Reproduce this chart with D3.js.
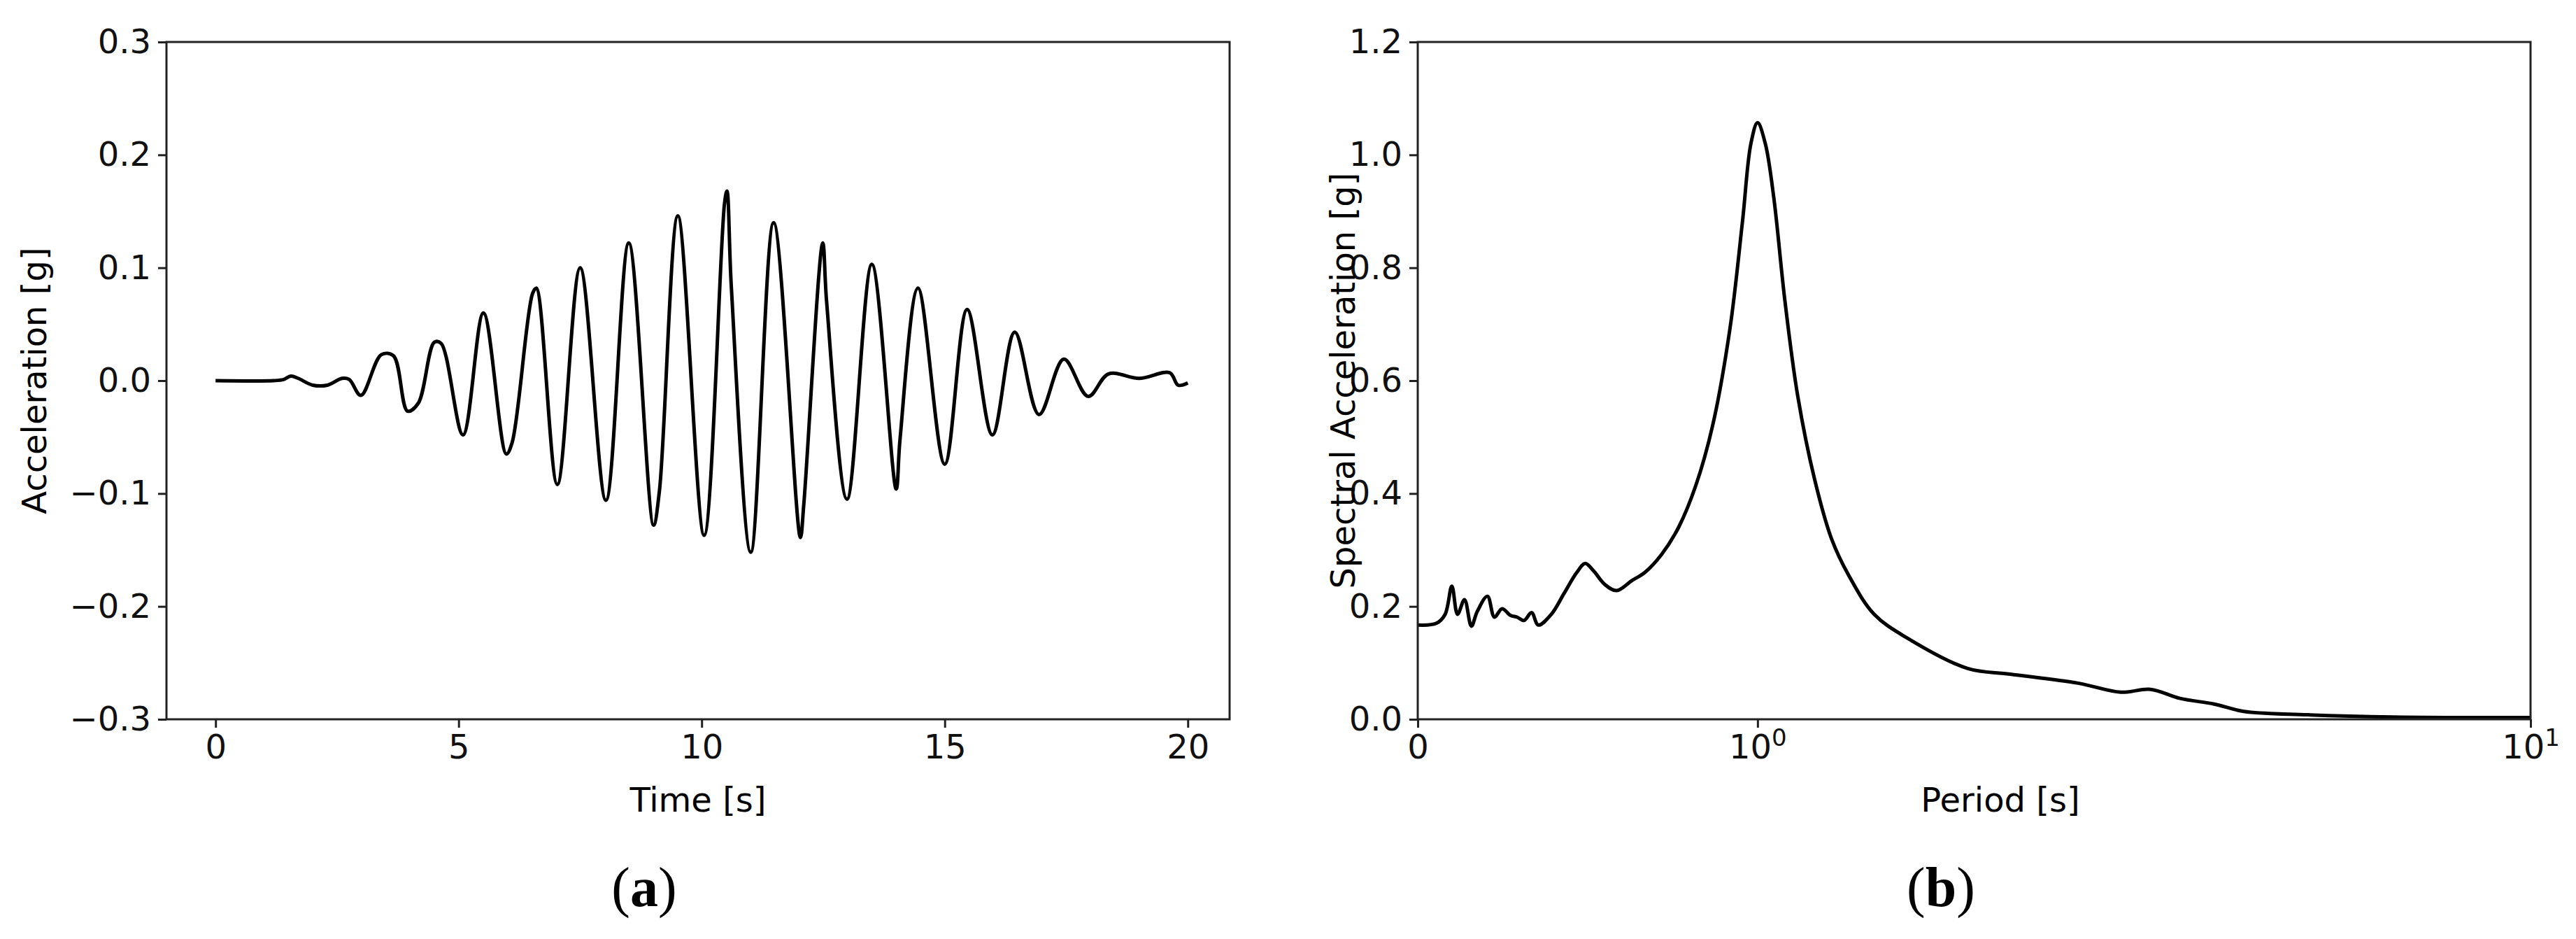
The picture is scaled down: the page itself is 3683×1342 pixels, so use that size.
<!DOCTYPE html>
<html><head><meta charset="utf-8">
<script src="https://cdn.jsdelivr.net/npm/d3@7"></script>
<style>body{margin:0;background:#fff}</style></head>
<body><svg id="c" width="3683" height="1342"></svg>
<script>
const timeS = [0,1.2,1.4,1.55,1.7,2.0,2.3,2.6,2.75,2.99,3.41,3.66,3.95,4.17,4.50,4.64,5.09,5.51,5.98,6.10,6.52,6.6,7.03,7.50,8.03,8.50,9.01,9.13,9.51,10.05,10.47,10.52,10.61,11.01,11.48,12.03,12.1,12.49,12.57,12.99,13.50,14.0,14.08,14.45,15.0,15.46,15.98,16.44,16.94,17.45,17.95,18.37,19.0,19.63,19.8,20.0];
const accel = [0,0,0.001,0.004,0.002,-0.004,-0.004,0.002,0.001,-0.013,0.023,0.022,-0.027,-0.02,0.034,0.033,-0.048,0.06,-0.065,-0.055,0.077,0.082,-0.092,0.1,-0.106,0.122,-0.128,-0.098,0.146,-0.137,0.157,0.168,0.083,-0.152,0.14,-0.139,-0.11,0.122,0.07,-0.105,0.103,-0.096,-0.052,0.082,-0.074,0.063,-0.048,0.043,-0.03,0.019,-0.014,0.006,0.002,0.007,-0.004,-0.002];
const periodS = [0,0.037,0.055,0.069,0.081,0.096,0.111,0.124,0.147,0.163,0.181,0.201,0.217,0.234,0.253,0.270,0.304,0.338,0.373,0.397,0.421,0.454,0.490,0.538,0.579,0.635,0.694,0.756,0.819,0.886,0.937,0.972,1.000,1.033,1.070,1.119,1.178,1.258,1.342,1.429,1.566,1.761,2.142,2.447,3.003,3.397,3.695,4.015,4.410,4.779,5.663,7.062,10.0];
const spectral = [0.167,0.170,0.186,0.236,0.186,0.212,0.165,0.191,0.218,0.181,0.196,0.184,0.181,0.175,0.189,0.167,0.186,0.223,0.260,0.276,0.263,0.239,0.228,0.246,0.260,0.292,0.340,0.414,0.520,0.690,0.881,1.020,1.057,1.020,0.924,0.743,0.573,0.425,0.319,0.255,0.186,0.143,0.090,0.080,0.064,0.048,0.053,0.037,0.027,0.014,0.008,0.004,0.003];
const ticksA_x = [0,5,10,15,20];
const ticksA_y = [-0.3,-0.2,-0.1,0.0,0.1,0.2,0.3];
const ticksB_x = [0,1,10];
const ticksB_y = [0,0.2,0.4,0.6,0.8,1.0,1.2];

const svg = d3.select('#c');
const F = 'DejaVu Sans, sans-serif';
const TOP=60, BOT=1028;

function frame(g,x0,x1){
  g.append('rect').attr('x',x0).attr('y',TOP).attr('width',x1-x0).attr('height',BOT-TOP)
   .attr('fill','none').attr('stroke','#222').attr('stroke-width',3);
}
function style(ax){
  ax.select('.domain').remove();
  ax.selectAll('line').attr('stroke','#222').attr('stroke-width',3);
  ax.selectAll('text').attr('font-family',F).attr('font-size',48).attr('fill','#111');
}
// Panel a
{
  const x = d3.scaleLinear().domain([-1.01,20.86]).range([238,1758]);
  const y = d3.scaleLinear().domain([-0.3,0.3]).range([BOT,TOP]);
  const g = svg.append('g');
  const ax = g.append('g').attr('transform',`translate(0,${BOT})`).call(d3.axisBottom(x).tickValues(ticksA_x).tickSize(12).tickPadding(10).tickFormat(d3.format('d')));
  style(ax);
  const ay = g.append('g').attr('transform',`translate(238,0)`).call(d3.axisLeft(y).tickValues(ticksA_y).tickSize(12).tickPadding(10).tickFormat(d=>d3.format('.1f')(d).replace('-','\u2212')));
  style(ay);
  g.append('path').datum(timeS.map((t,i)=>[t,accel[i]]))
   .attr('d',d3.line().x(d=>x(d[0])).y(d=>y(d[1])).curve(d3.curveCatmullRom.alpha(0.5)))
   .attr('fill','none').attr('stroke','#000').attr('stroke-width',5).attr('stroke-linejoin','round');
  frame(g,238,1758);
  g.append('text').attr('x',998).attr('y',1160).attr('text-anchor','middle').attr('font-family',F).attr('font-size',48).text('Time [s]');
  g.append('text').attr('transform',`translate(66,544) rotate(-90)`).attr('text-anchor','middle').attr('font-family',F).attr('font-size',48).text('Acceleration [g]');
  const t=g.append('text').attr('x',921).attr('y',1295).attr('text-anchor','middle').attr('font-family','Liberation Serif, serif').attr('font-size',80);
  t.append('tspan').text('(');t.append('tspan').attr('font-weight','bold').text('a');t.append('tspan').text(')');
}
// Panel b
{
  const x = d3.scaleSymlog().constant(0.85).domain([0,10]).range([2027,3618]);
  const y = d3.scaleLinear().domain([0,1.2]).range([BOT,TOP]);
  const g = svg.append('g');
  const ax = g.append('g').attr('transform',`translate(0,${BOT})`).call(d3.axisBottom(x).tickValues(ticksB_x).tickSize(12).tickPadding(10).tickFormat(()=>''));
  style(ax);
  ax.selectAll('.tick text').each(function(d){
    const s=d3.select(this);
    if(d===0){s.text('0');}
    else{s.append('tspan').text('10');s.append('tspan').attr('dy',-18).attr('font-size',34).text(d===1?'0':'1');}
  });
  const ay = g.append('g').attr('transform',`translate(2027,0)`).call(d3.axisLeft(y).tickValues(ticksB_y).tickSize(12).tickPadding(10).tickFormat(d3.format('.1f')));
  style(ay);
  g.append('path').datum(periodS.map((t,i)=>[t,spectral[i]]))
   .attr('d',d3.line().x(d=>x(d[0])).y(d=>y(d[1])).curve(d3.curveCatmullRom.alpha(0.5)))
   .attr('fill','none').attr('stroke','#000').attr('stroke-width',5).attr('stroke-linejoin','round');
  frame(g,2027,3618);
  g.append('text').attr('x',2860).attr('y',1160).attr('text-anchor','middle').attr('font-family',F).attr('font-size',48).text('Period [s]');
  g.append('text').attr('transform',`translate(1937,544) rotate(-90)`).attr('text-anchor','middle').attr('font-family',F).attr('font-size',48).text('Spectral Acceleration [g]');
  const t=g.append('text').attr('x',2775).attr('y',1295).attr('text-anchor','middle').attr('font-family','Liberation Serif, serif').attr('font-size',80);
  t.append('tspan').text('(');t.append('tspan').attr('font-weight','bold').text('b');t.append('tspan').text(')');
}
</script></body></html>
